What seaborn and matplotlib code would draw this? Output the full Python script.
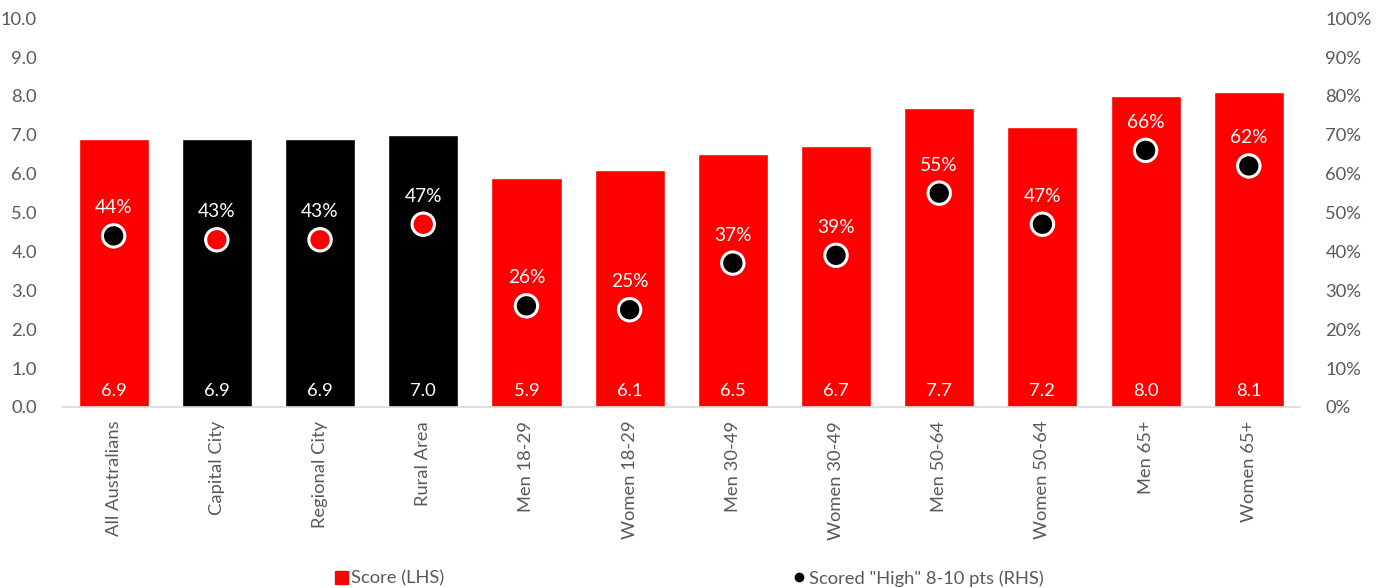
import matplotlib
matplotlib.use("Agg")
import matplotlib.pyplot as plt
from matplotlib.lines import Line2D
from matplotlib.patches import Patch
import seaborn as sns
import pandas as pd

categories = ["All Australians", "Capital City", "Regional City", "Rural Area",
              "Men 18-29", "Women 18-29", "Men 30-49", "Women 30-49",
              "Men 50-64", "Women 50-64", "Men 65+", "Women 65+"]
scores = [6.9, 6.9, 6.9, 7.0, 5.9, 6.1, 6.5, 6.7, 7.7, 7.2, 8.0, 8.1]
high_share = [44, 43, 43, 47, 26, 25, 37, 39, 55, 47, 66, 62]
is_location = [False, True, True, True, False, False, False, False,
               False, False, False, False]

RED = "#FF0000"
BLACK = "#000000"
GREY = "#595959"
FS = 13.2

df = pd.DataFrame({"category": categories, "score": scores,
                   "high": high_share, "location": is_location})
bar_colors = {c: (BLACK if loc else RED) for c, loc in zip(categories, is_location)}
dot_colors = [RED if loc else BLACK for loc in is_location]

sns.set_theme(style="white")
plt.rcParams["font.family"] = ["Lato", "DejaVu Sans"]

fig = plt.figure(figsize=(13.79, 5.88), dpi=100)
ax = fig.add_axes([0.045, 0.308, 0.898, 0.661])

sns.barplot(data=df, x="category", y="score", hue="category", palette=bar_colors,
            dodge=False, legend=False, width=0.68, saturation=1, ax=ax)

ax.set_ylim(0, 10)
ax.set_xlim(-0.5, len(categories) - 0.5)
ax.set_yticks([i for i in range(11)])
ax.set_yticklabels([f"{i:.1f}" for i in range(11)])
ax.set_xlabel("")
ax.set_ylabel("")
ax.tick_params(axis="x", rotation=90, labelsize=FS, colors=GREY, length=0, pad=10)
ax.tick_params(axis="y", labelsize=FS, colors=GREY, length=0, pad=18)
for side in ("left", "right", "top"):
    ax.spines[side].set_visible(False)
ax.spines["bottom"].set_color("#D9D9D9")
ax.spines["bottom"].set_linewidth(1.2)

# bar value labels near the base
for i, v in enumerate(scores):
    ax.text(i, 0.4, f"{v:.1f}", ha="center", va="center", color="white", fontsize=FS)

ax2 = ax.twinx()
sns.scatterplot(data=df, x="category", y="high", hue="category",
                palette=dict(zip(categories, dot_colors)), legend=False,
                s=260, edgecolor="white", linewidth=2.2, ax=ax2, zorder=5)
ax2.set_ylim(0, 100)
ax2.set_xlim(-0.5, len(categories) - 0.5)
ax2.set_yticks(list(range(0, 101, 10)))
ax2.set_yticklabels([f"{t}%" for t in range(0, 101, 10)])
ax2.tick_params(axis="y", labelsize=FS, colors=GREY, length=0, pad=18)
ax2.set_ylabel("")
for side in ("left", "right", "top", "bottom"):
    ax2.spines[side].set_visible(False)

for i, p in enumerate(high_share):
    ax2.text(i, p + 7.2, f"{p}%", ha="center", va="center", color="white", fontsize=13.8)

handles = [
    Patch(facecolor=RED, edgecolor=RED, label="Score (LHS)"),
    Line2D([0], [0], marker="o", color="none", markerfacecolor=BLACK,
           markeredgecolor=BLACK, markersize=6, label='Scored "High" 8-10 pts (RHS)'),
]
fig.legend(handles=handles, loc="lower center", bbox_to_anchor=(0.5, -0.026), ncol=2,
           frameon=False, fontsize=FS, labelcolor=GREY, columnspacing=19,
           handlelength=0.7, handleheight=0.7, handletextpad=0.2)

fig.savefig("out.png", dpi=100)
